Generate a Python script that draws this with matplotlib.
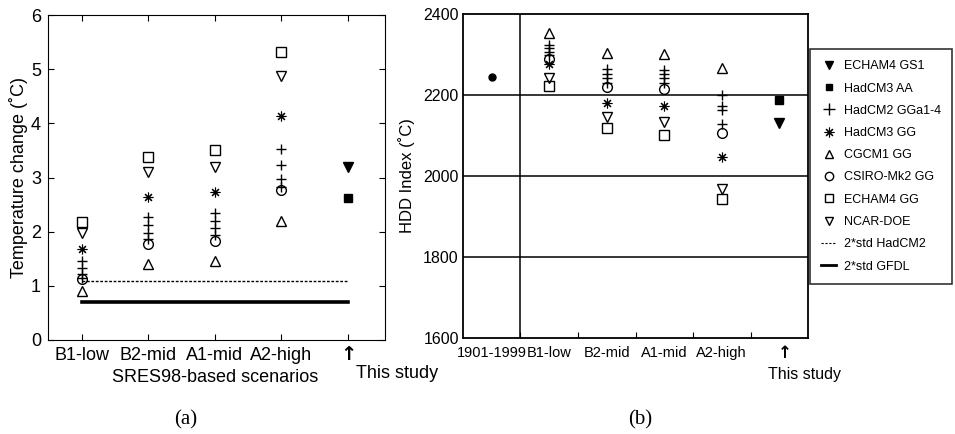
import matplotlib
matplotlib.use('Agg')
import matplotlib.pyplot as plt
from matplotlib.lines import Line2D

plt.rcParams['font.family'] = ['Liberation Sans', 'DejaVu Sans']

# ---- data: panel (a), temperature change (deg C) ----
scen_a = ['B1-low', 'B2-mid', 'A1-mid', 'A2-high']
cgcm1_a = [0.90, 1.40, 1.45, 2.20]
csiro_a = [1.12, 1.78, 1.82, 2.77]
echam4gg_a = [2.17, 3.38, 3.50, 5.32]
ncar_a = [1.98, 3.10, 3.20, 4.87]
hadcm3gg_a = [1.68, 2.64, 2.73, 4.14]
hadcm2_a = [[1.45, 1.33, 1.22, 1.15],
            [2.28, 2.12, 1.97, 1.87],
            [2.35, 2.20, 2.07, 1.93],
            [3.52, 3.24, 2.98, 2.83]]
echam4gs1_a = 3.20
hadcm3aa_a = 2.63
std_hadcm2_a = 1.08
std_gfdl_a = 0.71

# ---- data: panel (b), HDD index ----
cats_b = ['1901-1999', 'B1-low', 'B2-mid', 'A1-mid', 'A2-high']
hist_b = 2245
cgcm1_b = [2352, 2304, 2301, 2266]
csiro_b = [2290, 2219, 2214, 2107]
echam4gg_b = [2222, 2118, 2102, 1942]
ncar_b = [2241, 2145, 2134, 1968]
hadcm3gg_b = [2276, 2181, 2173, 2048]
hadcm2_b = [[2323, 2315, 2306, 2298],
            [2263, 2252, 2241, 2230],
            [2261, 2252, 2241, 2230],
            [2200, 2173, 2163, 2128]]
echam4gs1_b = 2130
hadcm3aa_b = 2188

ast = (8, 2, 0)
ms = 7
open_kw = dict(linestyle='none', mfc='none', mec='black', mew=1.0, ms=ms)

fig = plt.figure(figsize=(9.55, 4.34), dpi=100)

# ---------------- panel (a) ----------------
ax1 = fig.add_axes([0.0503, 0.2166, 0.3528, 0.7488])
xa = [1, 2, 3, 4]
for i, x in enumerate(xa):
    ax1.plot([x] * 4, hadcm2_a[i], marker='+', **open_kw)
ax1.plot(xa, cgcm1_a, marker='^', **open_kw)
ax1.plot(xa, csiro_a, marker='o', **open_kw)
ax1.plot(xa, echam4gg_a, marker='s', **open_kw)
ax1.plot(xa, ncar_a, marker='v', **open_kw)
ax1.plot(xa, hadcm3gg_a, marker=ast, linestyle='none', mec='black', mew=0.8, ms=ms)
ax1.plot([5], [echam4gs1_a], marker='v', color='black', ms=ms, linestyle='none')
ax1.plot([5], [hadcm3aa_a], marker='s', color='black', ms=6, linestyle='none')
ax1.plot([1, 5], [std_hadcm2_a] * 2, color='black', linestyle=(0, (2, 1.2)), lw=1.0)
ax1.plot([1, 5], [std_gfdl_a] * 2, color='black', lw=2.6)

ax1.set_xlim(0.49, 5.56)
ax1.set_ylim(0, 6)
ax1.set_xticks([1, 2, 3, 4, 5])
ax1.set_xticklabels(scen_a + [''], fontsize=13)
ax1.set_yticks(range(0, 7))
ax1.tick_params(axis='both', direction='in', top=True, right=True, length=4,
                labelsize=13, pad=5)
ax1.set_ylabel('Temperature change (˚C)', fontsize=13, labelpad=2)
fig.text(348 / 955, 1 - 354 / 434, '↑', ha='center', va='center', fontsize=14,
         fontweight='bold', family='DejaVu Sans')
fig.text(215 / 955, 1 - 378 / 434, 'SRES98-based scenarios', ha='center', va='center',
         fontsize=13)
fig.text(397 / 955, 1 - 374 / 434, 'This study', ha='center', va='center', fontsize=13)

# ---------------- panel (b) ----------------
ax2 = fig.add_axes([0.4848, 0.2212, 0.3613, 0.7465])
for y in (1800, 2000, 2200):
    ax2.axhline(y, color='black', lw=1.1, zorder=1)
ax2.axvline(1, color='black', lw=1.1, zorder=1)

xb = [1.5, 2.5, 3.5, 4.5]
for i, x in enumerate(xb):
    ax2.plot([x] * 4, hadcm2_b[i], marker='+', **open_kw)
ax2.plot(xb, cgcm1_b, marker='^', **open_kw)
ax2.plot(xb, csiro_b, marker='o', **open_kw)
ax2.plot(xb, echam4gg_b, marker='s', **open_kw)
ax2.plot(xb, ncar_b, marker='v', **open_kw)
ax2.plot(xb, hadcm3gg_b, marker=ast, linestyle='none', mec='black', mew=0.8, ms=ms)
ax2.plot([0.5], [hist_b], marker='o', color='black', ms=5, linestyle='none')
ax2.plot([5.5], [echam4gs1_b], marker='v', color='black', ms=ms, linestyle='none')
ax2.plot([5.5], [hadcm3aa_b], marker='s', color='black', ms=6, linestyle='none')

ax2.set_xlim(0, 6)
ax2.set_ylim(1600, 2400)
ax2.set_yticks([1600, 1800, 2000, 2200, 2400])
ax2.set_xticks([1, 2, 3, 4, 5])
ax2.set_xticklabels([])
ax2.set_xticks([0.5, 1.5, 2.5, 3.5, 4.5, 5.5], minor=True)
ax2.set_xticklabels(cats_b + [''], minor=True, fontsize=10.5)
ax2.tick_params(axis='x', which='major', direction='in', length=4)
ax2.tick_params(axis='x', which='minor', length=0, pad=6)
ax2.tick_params(axis='y', length=0, pad=3, labelsize=11.5)
for s in ax2.spines.values():
    s.set_linewidth(1.3)
ax2.set_ylabel('HDD Index (˚C)', fontsize=12, labelpad=6)
fig.text(785 / 955, 1 - 353 / 434, '↑', ha='center', va='center', fontsize=12,
         fontweight='bold', family='DejaVu Sans')
fig.text(805 / 955, 1 - 375 / 434, 'This study', ha='center', va='center', fontsize=11.5)

# legend
handles = [
    Line2D([], [], marker='v', color='black', ms=6, linestyle='none'),
    Line2D([], [], marker='s', color='black', ms=5, linestyle='none'),
    Line2D([], [], marker='+', linestyle='none', mec='black', ms=8),
    Line2D([], [], marker=ast, linestyle='none', mec='black', ms=7, mew=0.8),
    Line2D([], [], marker='^', linestyle='none', mfc='none', mec='black', ms=6),
    Line2D([], [], marker='o', linestyle='none', mfc='none', mec='black', ms=6),
    Line2D([], [], marker='s', linestyle='none', mfc='none', mec='black', ms=6),
    Line2D([], [], marker='v', linestyle='none', mfc='none', mec='black', ms=6),
    Line2D([], [], color='black', linestyle=(0, (2, 1.5)), lw=0.8),
    Line2D([], [], color='black', lw=2.0),
]
labels = ['ECHAM4 GS1', 'HadCM3 AA', 'HadCM2 GGa1-4', 'HadCM3 GG', 'CGCM1 GG',
          'CSIRO-Mk2 GG', 'ECHAM4 GG', 'NCAR-DOE', '2*std HadCM2', '2*std GFDL']
leg = fig.legend(handles, labels, loc='upper left', bbox_to_anchor=(810 / 955, 1 - 49 / 434),
                 fontsize=9, frameon=True, fancybox=False, handlelength=1.2,
                 handletextpad=0.6, labelspacing=0.82, borderpad=0.9, borderaxespad=0)
leg.get_frame().set_edgecolor('black')
leg.get_frame().set_linewidth(1.2)

# panel captions
fig.text(186 / 955, 1 - 420 / 434, '(a)', ha='center', va='center', fontsize=15,
         family='Liberation Serif')
fig.text(640 / 955, 1 - 420 / 434, '(b)', ha='center', va='center', fontsize=15,
         family='Liberation Serif')

fig.savefig('out.png', dpi=100)
